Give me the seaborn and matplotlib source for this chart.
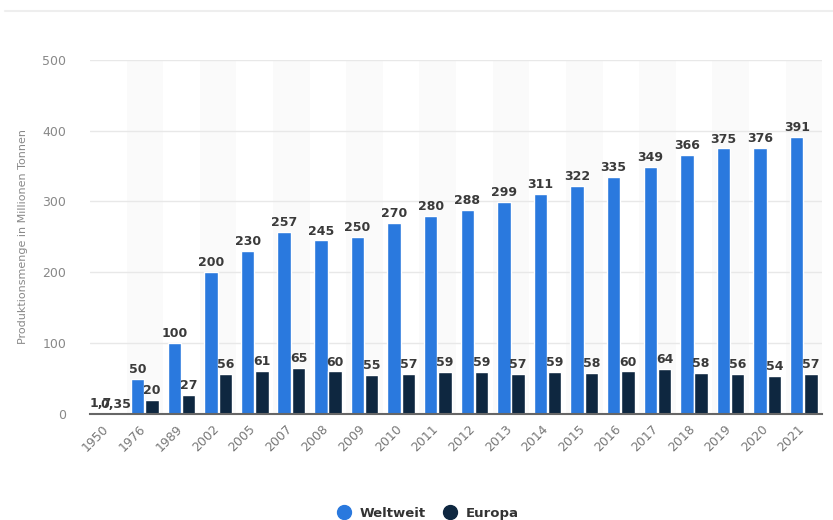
import matplotlib
matplotlib.use("Agg")
import matplotlib.pyplot as plt
import matplotlib.transforms as mtransforms
import seaborn as sns
import pandas as pd
from matplotlib.lines import Line2D

years = ["1950", "1976", "1989", "2002", "2005", "2007", "2008", "2009", "2010", "2011",
         "2012", "2013", "2014", "2015", "2016", "2017", "2018", "2019", "2020", "2021"]
weltweit = [1.7, 50, 100, 200, 230, 257, 245, 250, 270, 280, 288, 299, 311, 322, 335, 349, 366, 375, 376, 391]
europa = [0.35, 20, 27, 56, 61, 65, 60, 55, 57, 59, 59, 57, 59, 58, 60, 64, 58, 56, 54, 57]
series = ["Weltweit", "Europa"]
colors = ["#2a79de", "#0e2740"]

df = pd.DataFrame({
    "Jahr": years * 2,
    "Wert": weltweit + europa,
    "Serie": [series[0]] * len(years) + [series[1]] * len(years),
})

sns.set_theme(style="white")
plt.rcParams['font.family'] = ['DejaVu Sans']

fig = plt.figure(figsize=(8.33, 5.2), dpi=100)
ax = fig.add_axes([0.108, 0.204, 0.879, 0.681])

# alternating column shading
for i in range(len(years)):
    if i % 2 == 1:
        ax.axvspan(i - 0.5, i + 0.5, color="#fafafa", zorder=0, lw=0)

sns.barplot(data=df, x="Jahr", y="Wert", hue="Serie", palette=colors, ax=ax,
            width=0.78, gap=0.06, saturation=1, legend=False, zorder=3)

ax.set_ylim(0, 500)
ax.set_xlim(-0.5, len(years) - 0.5)
ax.set_yticks([0, 100, 200, 300, 400, 500])
ax.yaxis.grid(True, color="#e8e8e8", lw=1, zorder=1)
for s in ["top", "right", "left"]:
    ax.spines[s].set_visible(False)
ax.spines["bottom"].set_color("#666666")
ax.spines["bottom"].set_linewidth(1.5)
ax.spines["bottom"].set_zorder(5)

ax.tick_params(axis="y", colors="#888888", labelsize=9, length=0, pad=17)
ax.tick_params(axis="x", colors="#777777", labelsize=9, length=0, pad=6)
offset = mtransforms.ScaledTranslation(-6 / 100, 0, fig.dpi_scale_trans)
for lbl in ax.get_xticklabels():
    lbl.set_rotation(45)
    lbl.set_ha("right")
    lbl.set_rotation_mode("anchor")
    lbl.set_transform(lbl.get_transform() + offset)
ax.set_xlabel("")
ax.set_ylabel("Produktionsmenge in Millionen Tonnen", color="#888888", fontsize=8, labelpad=10)

def fmt(v):
    if float(v).is_integer():
        return f"{int(v)}"
    return f"{v}".replace(".", ",")

for c in ax.containers:
    ax.bar_label(c, labels=[fmt(v) for v in c.datavalues], padding=2,
                 fontsize=9, fontweight="bold", color="#3a3a3a")

# top line
fig.add_artist(Line2D([0.006, 1.0], [0.978, 0.978], color="#eeeeee", lw=1.5))

handles = [Line2D([], [], marker="o", ls="", markersize=10, markerfacecolor=c, markeredgecolor=c)
           for c in colors]
leg = fig.legend(handles, series, loc="lower center", bbox_to_anchor=(0.51, -0.022), ncol=2,
                 frameon=False, fontsize=9.5, handletextpad=0.2, columnspacing=0.8)
for t in leg.get_texts():
    t.set_fontweight("bold")
    t.set_color("#333333")

fig.savefig("out.png", dpi=100)
